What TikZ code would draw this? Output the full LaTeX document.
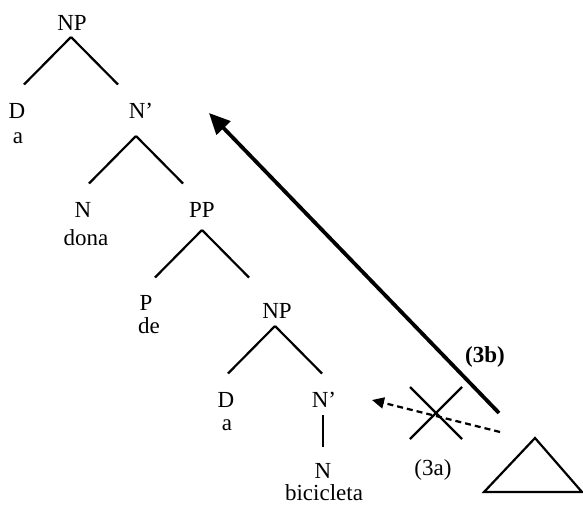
\documentclass[tikz,border=0pt]{standalone}
\usepackage{fontspec}
\setmainfont{Liberation Serif}
\usetikzlibrary{arrows.meta}

\begin{document}
\begin{tikzpicture}[x=1pt,y=-1pt,
  lbl/.style={anchor=base,inner sep=0pt,font=\fontsize{23}{27}\selectfont},
  branch/.style={line width=2.2pt},
  move/.style={line width=3.8pt,-{Triangle[length=21pt,width=19pt]}},
  blocked/.style={line width=2.2pt,dash pattern=on 6pt off 4pt,-{Triangle[length=12pt,width=11pt]}}]
\def\hw{47}
\def\hh{47.5}
\def\xr{26}
\useasboundingbox (0,0) rectangle (583,506);
  \node[lbl] (np)    at (72,30)   {NP};
  \node[lbl] (d)     at (17,118)  {D};
  \node[lbl] (a)     at (18,143)  {a};
  \node[lbl] (nbar)  at (141,118) {N’};
  \node[lbl] (n)     at (83,217)  {N};
  \node[lbl] (dona)  at (86,245)  {dona};
  \node[lbl] (pp)    at (202,217) {PP};
  \node[lbl] (p)     at (146,310) {P};
  \node[lbl] (de)    at (149,333) {de};
  \node[lbl] (np2)   at (277,318) {NP};
  \node[lbl] (d2)    at (226,407) {D};
  \node[lbl] (a2)    at (227,430) {a};
  \node[lbl] (nbar2) at (324,407) {N’};
  \node[lbl] (n2)    at (323,478) {N};
  \node[lbl] (bici)  at (324,500) {bicicleta};
  \node[lbl] (la)    at (433,475) {(3a)};
  \node[lbl,font=\fontsize{23}{27}\selectfont\bfseries] (lb) at (485,362) {(3b)};
  \foreach \p/\dx/\dy in {np/-1/7,nbar/-5/18,pp/0/13,np2/-2/8}
    {
     \draw[branch] (\p.base) ++(\dx,\dy) -- ++(-\hw,\hh) ++(\hw,-\hh) -- ++(\hw,\hh);
    }
  \draw[branch] (nbar2.base) ++(-1,8) -- ++(0,32);
  \draw[branch] (535,438) -- (484,492) -- (582,492) -- cycle;
  \coordinate (src)  at (499,413);
  \coordinate (tgt)  at (209,113);
  \coordinate (src2) at (500,432);
  \coordinate (tgt2) at (372,400);
  \coordinate (x)    at (436,413);
  \draw[move]    (src) -- (tgt);
  \draw[blocked] (src2) -- (tgt2);
  \draw[branch]  (x) ++(-\xr,-\xr) -- ++(2*\xr,2*\xr) ++(0,-2*\xr) -- ++(-2*\xr,2*\xr);
\end{tikzpicture}
\end{document}
